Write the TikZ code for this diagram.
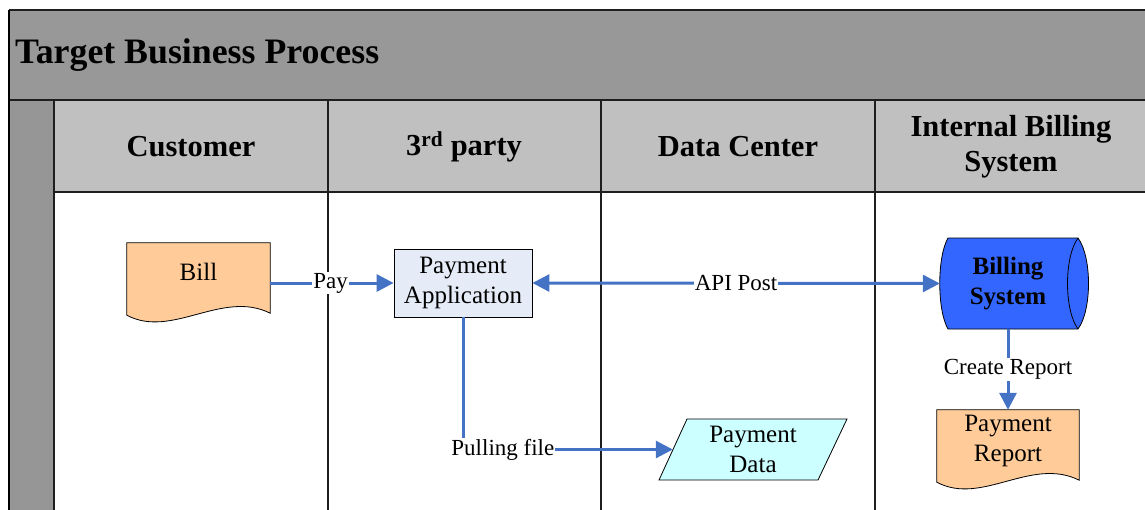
\documentclass[tikz,border=0pt]{standalone}
\usepackage{fontspec}
\setmainfont{Liberation Serif}
\usetikzlibrary{arrows.meta,calc,backgrounds}
\definecolor{titlegray}{RGB}{152,152,152}
\definecolor{sidegray}{RGB}{150,150,150}
\definecolor{headgray}{RGB}{192,192,192}
\definecolor{flow}{RGB}{68,114,196}
\definecolor{peach}{RGB}{255,204,153}
\definecolor{paleblue}{RGB}{230,236,247}
\definecolor{billblue}{RGB}{51,102,255}
\definecolor{cyanpale}{RGB}{204,255,255}
\definecolor{rule}{RGB}{30,30,30}
\tikzset{
  lanehead/.style={font=\fontsize{30.5}{35}\selectfont\bfseries, align=center, inner sep=0pt},
  shapetext/.style={font=\fontsize{25}{30}\selectfont, align=center, inner sep=0pt},
  docnode/.style={shapetext, rectangle, minimum width=143pt, minimum height=58pt},
  procbox/.style={shapetext, rectangle, draw=black, line width=0.8pt, fill=paleblue, minimum width=138pt, minimum height=68pt},
  flowline/.style={draw=flow, line width=3pt, -{Triangle[length=17pt,width=17pt]}},
  flowlabel/.style={font=\fontsize{23}{27}\selectfont, fill=white, inner sep=1pt, text=black},
  outline/.style={draw=black, line width=0.8pt}
}
\begin{document}
\begin{tikzpicture}[x=1pt,y=-1pt]
\useasboundingbox (0,0) rectangle (1145,509);
\clip (0,0) rectangle (1145,509);

% ---------- swimlane frame ----------
\begin{scope}[on background layer]
  \fill[titlegray] (9,10) rectangle (1160,100);
  \fill[sidegray] (9,100) rectangle (54,520);
  \fill[headgray] (54,100) rectangle (1160,192);
  \draw[rule, line width=1.4pt] (9,10) -- (1160,10);
  \draw[rule, line width=2pt] (9,100) -- (1160,100);
  \draw[rule, line width=1.6pt] (54,192) -- (1160,192);
  \draw[black, line width=2.2pt] (9,10) -- (9,520);
  \draw[rule, line width=1.4pt] (54,100) -- (54,520);
  \foreach \xx in {328,601,875} \draw[rule, line width=1.3pt] (\xx,100) -- (\xx,520);
\end{scope}

\node[anchor=west, font=\fontsize{35.8}{40}\selectfont\bfseries, inner sep=0pt] (title) at (15,55) {Target Business Process};
\node[lanehead] (hcust) at (191,147) {Customer};
\node[lanehead] (hthird) at (464,147) {3\textsuperscript{rd} party};
\node[lanehead] (hdc) at (738,147) {Data Center};
\node[lanehead] (hibs) at (1011,147) {Internal Billing\\System};

% ---------- shapes ----------
\node[docnode] (bill) at (198.5,272) {Bill};
\node[procbox] (pa) at (463,283) {Payment\\Application};
\node[shapetext, font=\fontsize{25}{30}\selectfont\bfseries, minimum width=136pt, minimum height=91pt] (bs) at (1008,283.5) {Billing\\System};
\node[docnode, minimum width=142pt] (pr) at (1008,441) {Payment\\Report};
\node[shapetext, minimum width=160pt, minimum height=61pt] (pd) at (753,449.5) {Payment\\Data};

\begin{scope}[on background layer]
  % Bill document
  \path[outline, fill=peach] (bill.north west) -- (bill.north east) -- ($(bill.south east)+(0,12)$)
    .. controls ($(bill.south east)+(-48,-12)$) and ($(bill.south west)+(45,38)$) .. ($(bill.south west)+(0,14)$) -- cycle;
  % Payment report document
  \path[outline, fill=peach] ($(pr.north west)+(0,-2)$) -- ($(pr.north east)+(0,-2)$) -- ($(pr.south east)+(0,10)$)
    .. controls ($(pr.south east)+(-48,-14)$) and ($(pr.south west)+(45,36)$) .. ($(pr.south west)+(0,12)$) -- cycle;
  % Billing system (direct access storage)
  \path[outline, fill=billblue] (948,238) -- (1078,238)
    .. controls (1092,257) and (1092,310) .. (1078,329) -- (948,329)
    .. controls (937,310) and (937,257) .. (948,238) -- cycle;
  \draw[outline] (1078,238) .. controls (1064,257) and (1064,310) .. (1078,329);
  % Payment data parallelogram
  \path[outline, fill=cyanpale] (687,419) -- (847,419) -- (818,480) -- (659,480) -- cycle;
\end{scope}

% ---------- connectors ----------
\draw[flowline] (pa.west -| bill.east) -- node[flowlabel, pos=0.49] {Pay} (pa.west);
\draw[flowline, {Triangle[length=17pt,width=17pt]}-{Triangle[length=17pt,width=17pt]}] (pa.east) -- node[flowlabel, pos=0.5] {API Post} (bs.west);
\draw[flowline] (pa.south) |- node[flowlabel, pos=0.595] {Pulling file} (pd.west);
\draw[flowline] (bs.south) -- node[flowlabel, pos=0.5] {Create Report} ($(pr.north)+(0,-2)$);
\end{tikzpicture}
\end{document}
